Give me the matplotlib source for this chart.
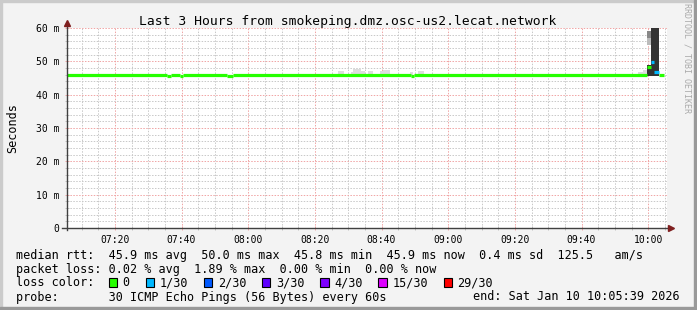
import matplotlib.pyplot as plt
from matplotlib.patches import Rectangle
from matplotlib.lines import Line2D

W, H = 697, 310

# time in minutes after 07:00, window 07:05:39 .. 10:05:39
t_start = 5.65
t_end = 185.65

# median rtt (ms), step data: edges and one value per step
rtt_edges = [5.65, 35.74, 36.76, 39.55, 40.54, 53.74, 55.54, 108.85, 109.75,
             179.65, 180.77, 181.76, 183.17, 184.75]
rtt_ms = [45.9, 45.6, 45.9, 45.6, 45.9, 45.6, 45.9, 45.6, 45.9,
          48.3, 49.8, 46.8, 45.9]
rtt_loss = [0, 0, 0, 0, 0, 0, 0, 0, 0, 0, 1, 1, 0]

# light smoke (ping spread above the median)
smoke_from = [87.05, 90.85, 91.45, 93.85, 95.85, 99.55, 100.45, 108.55, 110.9, 176.9, 178.5]
smoke_to = [88.75, 91.45, 93.85, 95.05, 97.55, 100.45, 102.55, 109.45, 112.8, 178.5, 179.65]
smoke_top = [47.1, 46.8, 47.7, 47.1, 47.1, 47.1, 47.4, 46.9, 47.1, 46.9, 47.4]

# the spike just before 10:00
spike_from = [179.65, 179.65, 179.65, 180.77]
spike_to = [180.77, 180.77, 180.77, 183.17]
spike_lo = [45.7, 55.0, 57.0, 45.7]
spike_hi = [49.0, 57.0, 59.0, 75.0]
spike_shade = ['#333333', '#bbbbbb', '#888888', '#333333']

loss_labels = ['0', '1/30', '2/30', '3/30', '4/30', '15/30', '29/30']
loss_colors = ['#26ff00', '#00b8ff', '#0059ff', '#5e00ff', '#7e00ff', '#dd00ff', '#ff0000']

x_major = [20, 40, 60, 80, 100, 120, 140, 160, 180]
x_labels = ['07:20', '07:40', '08:00', '08:20', '08:40', '09:00', '09:20', '09:40', '10:00']
y_major = [0, 10, 20, 30, 40, 50, 60]
y_labels = ['0', '10 m', '20 m', '30 m', '40 m', '50 m', '60 m']

title = 'Last 3 Hours from smokeping.dmz.osc-us2.lecat.network'
row_rtt = 'median rtt:  45.9 ms avg  50.0 ms max  45.8 ms min  45.9 ms now  0.4 ms sd  125.5   am/s'
row_loss = 'packet loss: 0.02 % avg  1.89 % max  0.00 % min  0.00 % now'
row_probe = 'probe:       30 ICMP Echo Pings (56 Bytes) every 60s'
end_text = 'end: Sat Jan 10 10:05:39 2026'

MONO = 'DejaVu Sans Mono'


def fx(x):
    return x / W


def fy(y):
    return 1 - y / H


fig = plt.figure(figsize=(W / 100, H / 100), dpi=100, facecolor='#f3f3f3')

# 3d-ish frame round the canvas
fig.patches.append(Rectangle((0, fy(2)), 1, 2 / H, transform=fig.transFigure, color='#cbcbcb', zorder=0))
fig.patches.append(Rectangle((0, 0), 2 / W, 1, transform=fig.transFigure, color='#cbcbcb', zorder=0))
fig.patches.append(Rectangle((0, 0), 1, 3 / H, transform=fig.transFigure, color='#999999', zorder=1))
fig.patches.append(Rectangle((fx(694), 0), 3 / W, 1, transform=fig.transFigure, color='#999999', zorder=1))

ax = fig.add_axes([fx(67), fy(228), 600 / W, 200 / H])
ax.set_facecolor('white')
ax.set_xlim(t_start, t_end)
ax.set_ylim(0, 60)

# smoke
for a, b, top in zip(smoke_from, smoke_to, smoke_top):
    ax.fill_between([a, b], 45.5, top, color='#dddddd', linewidth=0, zorder=2)
for a, b, lo, hi, c in zip(spike_from, spike_to, spike_lo, spike_hi, spike_shade):
    ax.fill_between([a, b], lo, hi, color=c, linewidth=0, zorder=2)

# median line coloured by loss
ax.hlines(rtt_ms, rtt_edges[:-1], rtt_edges[1:],
          colors=[loss_colors[i] for i in rtt_loss], linewidth=2.3, zorder=3)

# grid
ax.set_xticks(x_major)
ax.set_xticklabels(x_labels)
ax.set_xticks(range(10, 186, 5), minor=True)
ax.set_yticks(y_major)
ax.set_yticklabels(y_labels)
ax.set_yticks(range(0, 61, 2), minor=True)
ax.set_axisbelow(True)
ax.grid(which='minor', color='#c8c8c8', linestyle=(0, (1.5, 1.5)), linewidth=0.7)
ax.grid(which='major', color='#f0a4a4', linestyle=(0, (1.5, 1.5)), linewidth=0.7)
ax.tick_params(which='major', direction='inout', length=3, width=0.7, color='#f0a4a4',
               labelsize=7.05, labelcolor='black')
ax.tick_params(which='minor', direction='inout', length=2.5, width=0.7, color='#c0c0c0')
ax.tick_params(axis='y', which='major', pad=4.2)
ax.tick_params(axis='x', which='major', pad=3.4)
for lab in ax.get_xticklabels() + ax.get_yticklabels():
    lab.set_fontfamily(MONO)

# axes with arrows
for s in ax.spines.values():
    s.set_visible(False)
ax.add_line(Line2D([0, 0], [-0.012, 1.02], transform=ax.transAxes, color='#404040',
                   linewidth=1, clip_on=False, zorder=5))
ax.add_line(Line2D([-0.008, 1.006], [0, 0], transform=ax.transAxes, color='#404040',
                   linewidth=1, clip_on=False, zorder=5))
ax.plot([0], [1 + 4.7 / 200], marker='^', markersize=4, color='#7f1f1f',
        transform=ax.transAxes, clip_on=False, zorder=6)
ax.plot([1 + 4 / 600], [0], marker='>', markersize=4, color='#7f1f1f',
        transform=ax.transAxes, clip_on=False, zorder=6)

# texts
fig.text(fx(348), fy(24.5), title, ha='center', va='baseline', fontfamily=MONO, fontsize=9.4)
fig.text(fx(13), fy(128), 'Seconds', rotation=90, ha='center', va='center',
         fontfamily=MONO, fontsize=8.5)
fig.text(fx(687), fy(58), 'RRDTOOL / TOBI OETIKER', rotation=270, ha='center', va='center',
         fontfamily=MONO, fontsize=6, color='#aaaaaa')

fig.text(fx(16), fy(258.5), row_rtt, va='baseline', fontfamily=MONO, fontsize=8.43)
fig.text(fx(16), fy(272.5), row_loss, va='baseline', fontfamily=MONO, fontsize=8.43)
fig.text(fx(16), fy(286), 'loss color:', va='baseline', fontfamily=MONO, fontsize=8.43)
fig.text(fx(16), fy(300.5), row_probe, va='baseline', fontfamily=MONO, fontsize=8.43)
fig.text(fx(680), fy(300.5), end_text, ha='right', va='baseline', fontfamily=MONO, fontsize=8.43)

x = 108.5
for lab, col in zip(loss_labels, loss_colors):
    fig.patches.append(Rectangle((fx(x), fy(286.5)), 8.5 / W, 8.5 / H, transform=fig.transFigure,
                                 facecolor=col, edgecolor='black', linewidth=0.8, zorder=3))
    fig.text(fx(x + 14), fy(286), lab, va='baseline', fontfamily=MONO, fontsize=8.43)
    x += 30 + 7.05 * len(lab)

fig.savefig('out.png', dpi=100, facecolor=fig.get_facecolor())
